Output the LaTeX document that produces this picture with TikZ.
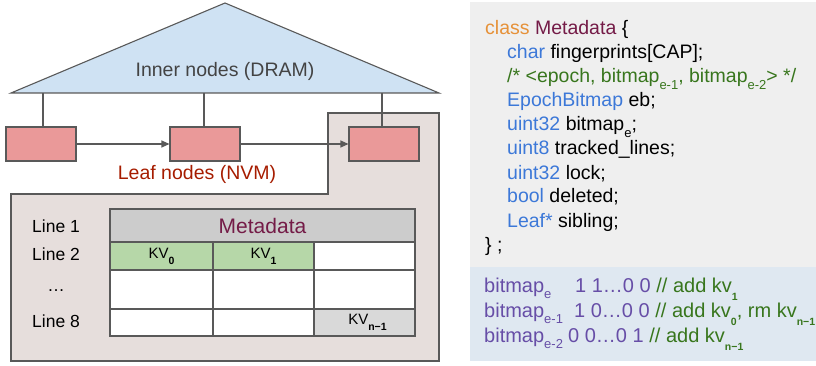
\documentclass[tikz,border=0pt]{standalone}
\usepackage{fontspec}
\setmainfont{Liberation Sans}
\usetikzlibrary{arrows.meta}
\definecolor{lgray}{HTML}{595959}
\definecolor{triblue}{HTML}{CFE2F3}
\definecolor{leafred}{HTML}{EA9999}
\definecolor{regiongray}{HTML}{E6DEDC}
\definecolor{metagray}{HTML}{CCCCCC}
\definecolor{kvgreen}{HTML}{B6D7A8}
\definecolor{kvgray}{HTML}{D9D9D9}
\definecolor{panelgray}{HTML}{EFEFEF}
\definecolor{panelblue}{HTML}{DFE8F1}
\definecolor{innertxt}{HTML}{434343}
\definecolor{leaftxt}{HTML}{A61C00}
\definecolor{magenta}{HTML}{741B47}
\definecolor{kworange}{HTML}{E69138}
\definecolor{kwblue}{HTML}{3C78D8}
\definecolor{cmgreen}{HTML}{38761D}
\definecolor{bmpurple}{HTML}{674EA7}
\newcommand\lsub[1]{\raisebox{-0.32em}{\fontsize{13}{13}\selectfont #1}}
\newcommand\bsub[1]{\raisebox{-0.4em}{\fontsize{10.5}{11}\selectfont\bfseries #1}}
\begin{document}
\begin{tikzpicture}[x=1pt,y=-1pt,
  leaf/.style={draw=lgray, fill=leafred, line width=1.1pt, minimum width=70pt, minimum height=34pt, inner sep=0pt},
  cell/.style={draw=lgray, line width=1.1pt, inner sep=0pt, font=\fontsize{15}{18}\selectfont},
  wire/.style={draw=lgray, line width=1.1pt},
  txt/.style={inner sep=0pt},
  code/.style={inner sep=0pt, anchor=base west, font=\fontsize{19.5}{23}\selectfont},
  bcode/.style={inner sep=0pt, anchor=base west, font=\fontsize{20}{24}\selectfont}]
\useasboundingbox (0,0) rectangle (816,366);

% right panels
\fill[panelgray] (470,2) rectangle (816,267);
\fill[panelblue] (470,267) rectangle (816,361);

% leaf region
\draw[wire, fill=regiongray] (11,194) -- (328,194) -- (328,113) -- (439,113) -- (439,361) -- (11,361) -- cycle;

% triangle
\draw[wire, fill=triblue, line join=miter] (225,3) -- (439,93) -- (11,93) -- cycle;
\node[txt, text=innertxt, font=\fontsize{19.5}{23}\selectfont] (inner) at (225,71) {Inner nodes (DRAM)};
\coordinate (t1) at (43,93);
\coordinate (t2) at (204,93);
\coordinate (t3) at (382,93);

% leaf nodes
\node[leaf] (l1) at (41,144) {};
\node[leaf] (l2) at (205,144) {};
\node[leaf] (l3) at (384,144) {};
\draw[wire] (t1) -- (t1 |- l1.north);
\draw[wire] (t2) -- (t2 |- l2.north);
\draw[wire] (t3) -- (t3 |- l3.north);
\draw[wire, -{Triangle[length=8pt,width=7pt]}] (l1) -- (l2);
\draw[wire, -{Triangle[length=8pt,width=7pt]}] (l2) -- (l3);
\node[txt, text=leaftxt, font=\fontsize{19.5}{23}\selectfont] (leaflbl) at (197,174) {Leaf nodes (NVM)};

% table
\node[cell, fill=metagray, minimum width=305pt, minimum height=33pt, text=magenta, font=\fontsize{21}{25}\selectfont] (meta) at (262.5,225.5) {Metadata};
\node[cell, fill=kvgreen, minimum width=103pt, minimum height=28pt] (c21) at (161.5,256) {KV\bsub{0}};
\node[cell, fill=kvgreen, minimum width=101pt, minimum height=28pt] (c22) at (263.5,256) {KV\bsub{1}};
\node[cell, fill=white, minimum width=101pt, minimum height=28pt] (c23) at (364.5,256) {};
\node[cell, fill=white, minimum width=103pt, minimum height=39pt] (c31) at (161.5,289.5) {};
\node[cell, fill=white, minimum width=101pt, minimum height=39pt] (c32) at (263.5,289.5) {};
\node[cell, fill=white, minimum width=101pt, minimum height=39pt] (c33) at (364.5,289.5) {};
\node[cell, fill=white, minimum width=103pt, minimum height=27pt] (c41) at (161.5,322.5) {};
\node[cell, fill=white, minimum width=101pt, minimum height=27pt] (c42) at (263.5,322.5) {};
\node[cell, fill=kvgray, minimum width=101pt, minimum height=27pt] (c43) at (364.5,322.5) {\hspace*{6pt}KV\bsub{n−1}};

\node[txt, font=\fontsize{17.5}{21}\selectfont] (ln1) at (56,226) {Line 1};
\node[txt, font=\fontsize{17.5}{21}\selectfont] (ln2) at (56,254) {Line 2};
\node[txt, font=\fontsize{17.5}{21}\selectfont] (lnd) at (56,291) {…};
\node[txt, font=\fontsize{17.5}{21}\selectfont] (ln8) at (56,321) {Line 8};

% code
\node[code] (k0) at (485,35) {\textcolor{kworange}{class} \textcolor{magenta}{Metadata} \{};
\node[code] (k1) at (507,59) {\textcolor{kwblue}{char} fingerprints[CAP];};
\node[code, text=cmgreen] (k2) at (507,83) {/* <epoch, bitmap\lsub{e-1}, bitmap\lsub{e-2}> */};
\node[code] (k3) at (507,107) {\textcolor{kwblue}{EpochBitmap} eb;};
\node[code] (k4) at (507,131) {\textcolor{kwblue}{uint32} bitmap\lsub{e};};
\node[code] (k5) at (507,155) {\textcolor{kwblue}{uint8} tracked\_lines;};
\node[code] (k6) at (507,179) {\textcolor{kwblue}{uint32} lock;};
\node[code] (k7) at (507,203) {\textcolor{kwblue}{bool} deleted;};
\node[code] (k8) at (507,227) {\textcolor{kwblue}{Leaf*} sibling;};
\node[code] (k9) at (485,251) {\} ;};

% bitmaps
\node[bcode, text=bmpurple] (b1) at (484,292) {bitmap\lsub{e}};
\node[bcode] (b1v) at (575,292) {\textcolor{bmpurple}{1 1…0 0} \textcolor{cmgreen}{// add kv\bsub{1}}};
\node[bcode, text=bmpurple] (b2) at (484,317) {bitmap\lsub{e-1}};
\node[bcode] (b2v) at (574,317) {\textcolor{bmpurple}{1 0…0 0} \textcolor{cmgreen}{// add kv\bsub{0}, rm kv\bsub{n−1}}};
\node[bcode, text=bmpurple] (b3) at (484,342) {bitmap\lsub{e-2}};
\node[bcode] (b3v) at (568,342) {\textcolor{bmpurple}{0 0…0 1} \textcolor{cmgreen}{// add kv\bsub{n−1}}};
\end{tikzpicture}
\end{document}
